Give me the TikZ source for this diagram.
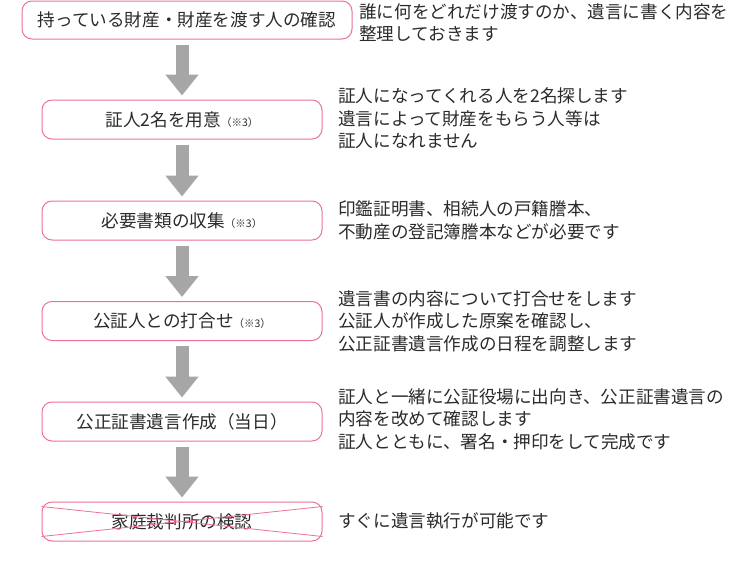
\documentclass[tikz,border=0pt]{standalone}
\usepackage{fontspec}
\setmainfont{Noto Sans CJK JP}
\usetikzlibrary{arrows.meta}
\definecolor{pinkline}{HTML}{EC7393}
\definecolor{arrowgray}{HTML}{A6A6A6}
\definecolor{txt}{HTML}{2B2B2B}
\newcommand{\notesmall}[1]{{\fontsize{10.5}{12}\selectfont #1}}
\begin{document}
\begin{tikzpicture}[x=1pt,y=-1pt,
  stepbox/.style={draw=pinkline, line width=1pt, rounded corners=10pt,
    minimum width=280pt, minimum height=39pt, inner sep=0pt, text=txt,
    font=\fontsize{17.6}{22}\selectfont},
  note/.style={anchor=west, align=left, inner sep=0pt, text=txt,
    font=\fontsize{17.6}{22.6}\selectfont},
  bigarrow/.style={draw=arrowgray, line width=13pt,
    -{Triangle[width=32pt,length=21pt]}, shorten <=5pt, shorten >=4pt},
  crossline/.style={draw=pinkline, line width=0.8pt}]
\useasboundingbox[fill=white] (0,0) rectangle (740,565);

\node[stepbox, minimum width=330pt, minimum height=38pt] (b1) at (187,20) {持っている財産・財産を渡す人の確認};
\node[stepbox] (b2) at (182,119.5) {証人2名を用意\notesmall{（※3）}};
\node[stepbox] (b3) at (182,220.5) {必要書類の収集\notesmall{（※3）}};
\node[stepbox] (b4) at (182,321) {公証人との打合せ\notesmall{（※3）}};
\node[stepbox] (b5) at (182,421.5) {公正証書遺言作成（当日）};
\node[stepbox] (b6) at (182,521.5) {家庭裁判所の検認};

\draw[crossline] ([yshift=-5pt]b6.north west) -- ([yshift=5pt]b6.south east);
\draw[crossline] ([yshift=5pt]b6.south west) -- ([yshift=-5pt]b6.north east);

\draw[bigarrow] (b1.south -| b2.north) -- (b2.north);
\draw[bigarrow] (b2.south) -- (b3.north);
\draw[bigarrow] (b3.south) -- (b4.north);
\draw[bigarrow] (b4.south) -- (b5.north);
\draw[bigarrow] (b5.south) -- (b6.north);

\node[note] (t1) at (359,22.5) {誰に何をどれだけ渡すのか、遺言に書く内容を\\整理しておきます};
\node[note] (t2) at (338,118.5) {証人になってくれる人を2名探します\\遺言によって財産をもらう人等は\\証人になれません};
\node[note] (t3) at (338,220.5) {印鑑証明書、相続人の戸籍謄本、\\不動産の登記簿謄本などが必要です};
\node[note] (t4) at (338,321) {遺言書の内容について打合せをします\\公証人が作成した原案を確認し、\\公正証書遺言作成の日程を調整します};
\node[note] (t5) at (338,419) {証人と一緒に公証役場に出向き、公正証書遺言の\\内容を改めて確認します\\証人とともに、署名・押印をして完成です};
\node[note] (t6) at (338,521) {すぐに遺言執行が可能です};
\end{tikzpicture}
\end{document}
